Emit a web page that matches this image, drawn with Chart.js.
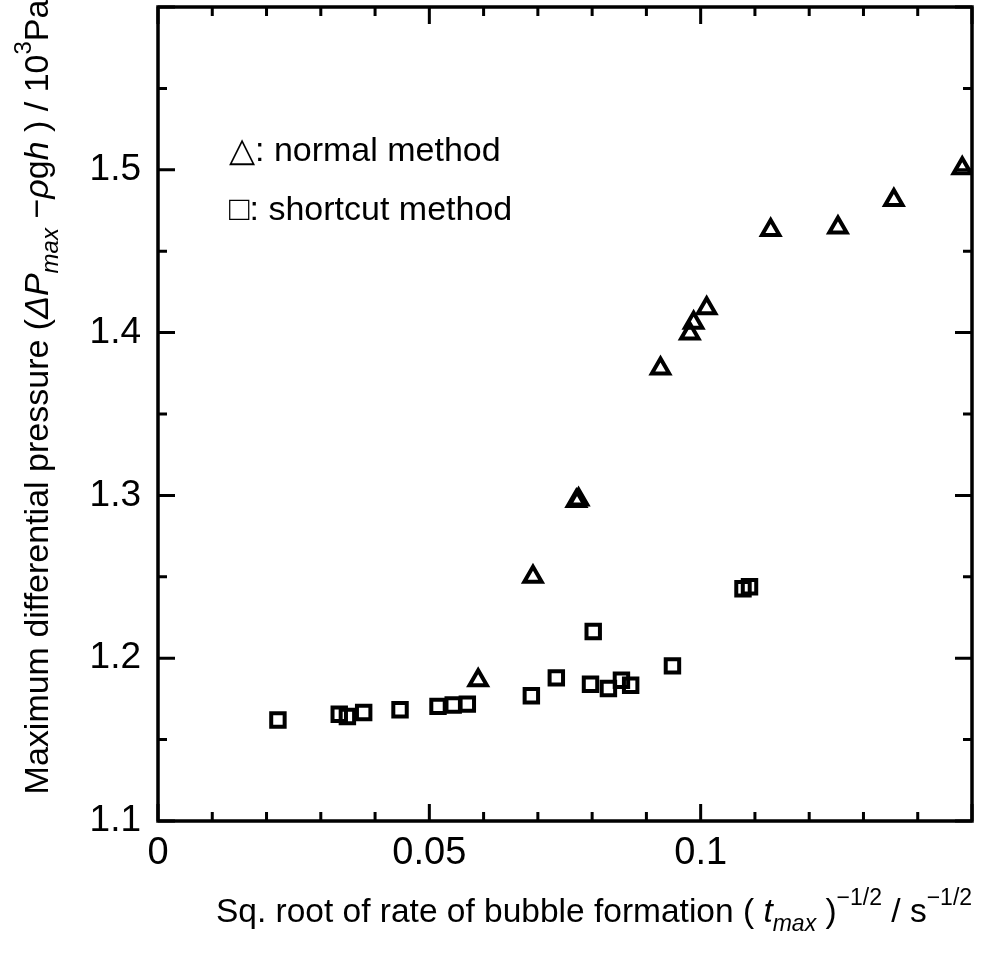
<html>
<head>
<script src="https://cdn.jsdelivr.net/npm/chart.js@4/dist/chart.umd.min.js"></script>
</head>
<body style="margin:0; background:#fff">
<canvas id="chart" width="998" height="955"></canvas>

<script>
// triangles: normal method
let normalX = [0.0590, 0.0691, 0.0771, 0.0775, 0.0926, 0.0980, 0.0987, 0.1011, 0.1129, 0.1253, 0.1356, 0.1482]
let normalY = [1.1865, 1.2500, 1.2965, 1.2975, 1.3780, 1.3995, 1.4060, 1.4150, 1.4630, 1.4645, 1.4815, 1.5010]

// squares: shortcut method
let shortcutX = [0.0221, 0.0334, 0.0349, 0.0379, 0.0446, 0.0516, 0.0544, 0.0570, 0.0688, 0.0734,
                 0.0797, 0.0802, 0.0830, 0.0854, 0.0871, 0.0948, 0.1078, 0.1090]
let shortcutY = [1.1620, 1.1656, 1.1642, 1.1667, 1.1683, 1.1704, 1.1712, 1.1718, 1.1769, 1.1879,
                 1.1840, 1.2164, 1.1814, 1.1865, 1.1834, 1.1953, 1.2427, 1.2439]

let xTickValues = [0, 0.05, 0.1]
let xTickLabels = ['0', '0.05', '0.1']
let yTickValues = [1.1, 1.2, 1.3, 1.4, 1.5]
let yTickLabels = ['1.1', '1.2', '1.3', '1.4', '1.5']
let xMajor = [0, 0.05, 0.1, 0.15]
let xMinor = [0.01, 0.02, 0.03, 0.04, 0.06, 0.07, 0.08, 0.09, 0.11, 0.12, 0.13, 0.14]
let yMajor = [1.1, 1.2, 1.3, 1.4, 1.5, 1.6]
let yMinor = [1.15, 1.25, 1.35, 1.45, 1.55]

let legendNormal = '\u25B3: normal method'
let legendShortcut = '\u25A1: shortcut method'

let xTitle = [
  { t: 'Sq. root of rate of bubble formation ( ' },
  { t: 't', it: true },
  { t: 'max', it: true, sub: true },
  { t: ' )' },
  { t: '\u22121/2', sup: true },
  { t: ' / s' },
  { t: '\u22121/2', sup: true },
]
let yTitle = [
  { t: 'Maximum differential pressure (' },
  { t: '\u0394P', it: true },
  { t: 'max', it: true, sub: true },
  { t: ' \u2212' },
  { t: '\u03C1', it: true },
  { t: 'g' },
  { t: 'h', it: true },
  { t: ' ) / 10' },
  { t: '3', sup: true },
  { t: 'Pa' },
]

const FONT = '"Liberation Sans", Arial, sans-serif'

function partFont(p, size) {
  let s = (p.sub || p.sup) ? Math.round(size * 0.7) : size
  return (p.it ? 'italic ' : '') + s + 'px ' + FONT
}

function richWidth(ctx, parts, size) {
  let w = 0
  for (let p of parts) {
    ctx.font = partFont(p, size)
    w += ctx.measureText(p.t).width
  }
  return w
}

function drawRich(ctx, parts, x, y, size) {
  for (let p of parts) {
    ctx.font = partFont(p, size)
    let dy = p.sub ? size * 0.28 : p.sup ? -size * 0.5 : 0
    ctx.fillText(p.t, x, y + dy)
    x += ctx.measureText(p.t).width
  }
}

const framePlugin = {
  id: 'framePlugin',
  afterDraw(chart) {
    const { ctx, chartArea: a, scales } = chart
    const x = scales.x, y = scales.y
    ctx.save()
    ctx.strokeStyle = '#000'
    ctx.lineCap = 'butt'

    // ticks pointing inwards, on all four sides
    ctx.lineWidth = 3
    ctx.beginPath()
    for (let v of xMajor.concat(xMinor)) {
      let px = x.getPixelForValue(v)
      let len = xMajor.includes(v) ? 17 : 9
      ctx.moveTo(px, a.bottom); ctx.lineTo(px, a.bottom - len)
      ctx.moveTo(px, a.top); ctx.lineTo(px, a.top + len)
    }
    for (let v of yMajor.concat(yMinor)) {
      let py = y.getPixelForValue(v)
      let len = yMajor.includes(v) ? 17 : 9
      ctx.moveTo(a.left, py); ctx.lineTo(a.left + len, py)
      ctx.moveTo(a.right, py); ctx.lineTo(a.right - len, py)
    }
    ctx.stroke()

    ctx.lineWidth = 3.5
    ctx.strokeRect(a.left, a.top, a.right - a.left, a.bottom - a.top)

    // legend text inside the plot
    ctx.fillStyle = '#000'
    ctx.textBaseline = 'alphabetic'
    ctx.textAlign = 'left'
    ctx.font = '34px ' + FONT
    ctx.fillText(legendNormal, 229, 161)
    ctx.fillText(legendShortcut, 229, 220)

    // x title
    let size = 33.5
    let w = richWidth(ctx, xTitle, size)
    drawRich(ctx, xTitle, 594 - w / 2, 922, size)

    // y title, rotated
    size = 34
    w = richWidth(ctx, yTitle, size)
    ctx.translate(48, 397)
    ctx.rotate(-Math.PI / 2)
    drawRich(ctx, yTitle, -w / 2, 0, size)
    ctx.restore()
  }
}

const ctx = document.getElementById('chart').getContext('2d')
new Chart(ctx, {
  type: 'scatter',
  data: {
    datasets: [
      {
        label: 'normal method',
        data: normalX.map((v, i) => ({ x: v, y: normalY[i] })),
        pointStyle: 'triangle',
        pointRadius: 10,
        pointBorderWidth: 4,
        borderColor: '#000',
        backgroundColor: 'rgba(0,0,0,0)',
      },
      {
        label: 'shortcut method',
        data: shortcutX.map((v, i) => ({ x: v, y: shortcutY[i] })),
        pointStyle: 'rect',
        pointRadius: 9.5,
        pointBorderWidth: 4,
        borderColor: '#000',
        backgroundColor: 'rgba(0,0,0,0)',
      },
    ]
  },
  options: {
    responsive: false,
    animation: false,
    layout: { autoPadding: false, padding: { top: 7, right: 26, left: 0, bottom: 0 } },
    plugins: { legend: { display: false }, tooltip: { enabled: false } },
    scales: {
      x: {
        type: 'linear',
        min: 0,
        max: 0.15,
        grid: { display: false },
        border: { display: false },
        afterBuildTicks: s => { s.ticks = xTickValues.map(v => ({ value: v })) },
        afterFit: s => { s.height = 134; s.paddingLeft = 0; s.paddingRight = 0 },
        ticks: {
          color: '#000',
          font: { family: FONT, size: 38 },
          padding: 2,
          maxRotation: 0,
          callback: (v, i) => xTickLabels[i],
        },
      },
      y: {
        type: 'linear',
        min: 1.1,
        max: 1.6,
        grid: { display: false },
        border: { display: false },
        afterBuildTicks: s => { s.ticks = yTickValues.map(v => ({ value: v })) },
        afterFit: s => { s.width = 158; s.paddingTop = 0; s.paddingBottom = 0 },
        ticks: {
          color: '#000',
          font: { family: FONT, size: 37 },
          padding: 9,
          callback: (v, i) => yTickLabels[i],
        },
      },
    },
  },
  plugins: [framePlugin],
})
</script>
</body>
</html>
